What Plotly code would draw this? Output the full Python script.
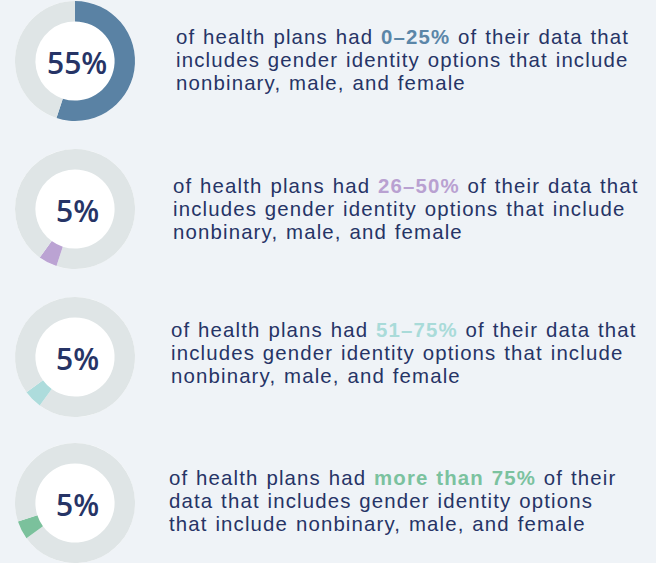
import plotly.graph_objects as go

# ---- data ----
shares = [55, 5, 5, 5]
labels = ["55%", "5%", "5%", "5%"]
ranges = ["0–25%", "26–50%", "51–75%", "more than 75%"]
line1_pre = "of health plans had "
line1_post = [" of their data that", " of their data that", " of their data that", " of their"]
line2 = ["includes gender identity options that include"] * 3 + ["data that includes gender identity options"]
line3 = ["nonbinary, male, and female"] * 3 + ["that include nonbinary, male, and female"]

# ---- styles ----
W, H = 656, 563
BG = "#eff3f7"
GRAY = "#dfe5e6"
NAVY = "#263466"
seg_colors = ["#5a82a4", "#bba3d3", "#addcdc", "#7bc19c"]
txt_colors = ["#5b86a8", "#b9a1d1", "#a9dbd9", "#7bc29f"]
centers = [(75, 61), (75, 209), (75, 357), (75, 503)]
R = 60
text_x = [175, 172, 170, 168]
text_y0 = [36.5, 186, 329.5, 477.5]
LINE = 23
SP = "letter-spacing:1.15px;word-spacing:1px"


def sp(t, color=None):
    st = SP + (f";color:{color}" if color else "")
    return f"<span style='{st}'>{t}</span>"


fig = go.Figure()
annotations = []
offset = 0
for i, s in enumerate(shares):
    cx, cy = centers[i]
    dom_x = [(cx - R) / W, (cx + R) / W]
    dom_y = [(H - cy - R) / H, (H - cy + R) / H]
    # white disc under the hole
    fig.add_trace(go.Pie(values=[1], marker=dict(colors=["white"], line=dict(width=0)),
                         domain=dict(x=dom_x, y=dom_y), textinfo="none", hoverinfo="skip",
                         showlegend=False, sort=False))
    if offset > 0:
        vals = [offset, s, 100 - offset - s]
        cols = [GRAY, seg_colors[i], GRAY]
    else:
        vals = [s, 100 - s]
        cols = [seg_colors[i], GRAY]
    fig.add_trace(go.Pie(values=vals, marker=dict(colors=cols, line=dict(width=0)),
                         domain=dict(x=dom_x, y=dom_y), hole=0.66, direction="clockwise",
                         rotation=0, sort=False, textinfo="none", showlegend=False))
    offset += s
    annotations.append(dict(x=cx + 2, y=cy + 1, xref="x", yref="y", text=labels[i], showarrow=False,
                            xanchor="center", yanchor="middle",
                            font=dict(family="Open Sans", size=30, color=NAVY, weight=600)))
    lines = [
        sp(line1_pre) + "<b>" + sp(ranges[i], txt_colors[i]) + "</b>" + sp(line1_post[i]),
        sp(line2[i]),
        sp(line3[i]),
    ]
    for j, t in enumerate(lines):
        annotations.append(dict(x=text_x[i], y=text_y0[i] + j * LINE, xref="x", yref="y", text=t,
                                showarrow=False, xanchor="left", yanchor="middle", borderpad=0,
                                font=dict(family="Liberation Sans", size=20.4, color=NAVY)))

fig.update_layout(
    width=W, height=H, margin=dict(l=0, r=0, t=0, b=0),
    paper_bgcolor=BG, plot_bgcolor="rgba(0,0,0,0)",
    xaxis=dict(range=[0, W], visible=False, fixedrange=True),
    yaxis=dict(range=[H, 0], visible=False, fixedrange=True),
    annotations=annotations,
)
fig.write_html("out.html", config={"displayModeBar": False},
               post_script="document.body.style.margin='0';document.body.style.overflow='hidden';")
